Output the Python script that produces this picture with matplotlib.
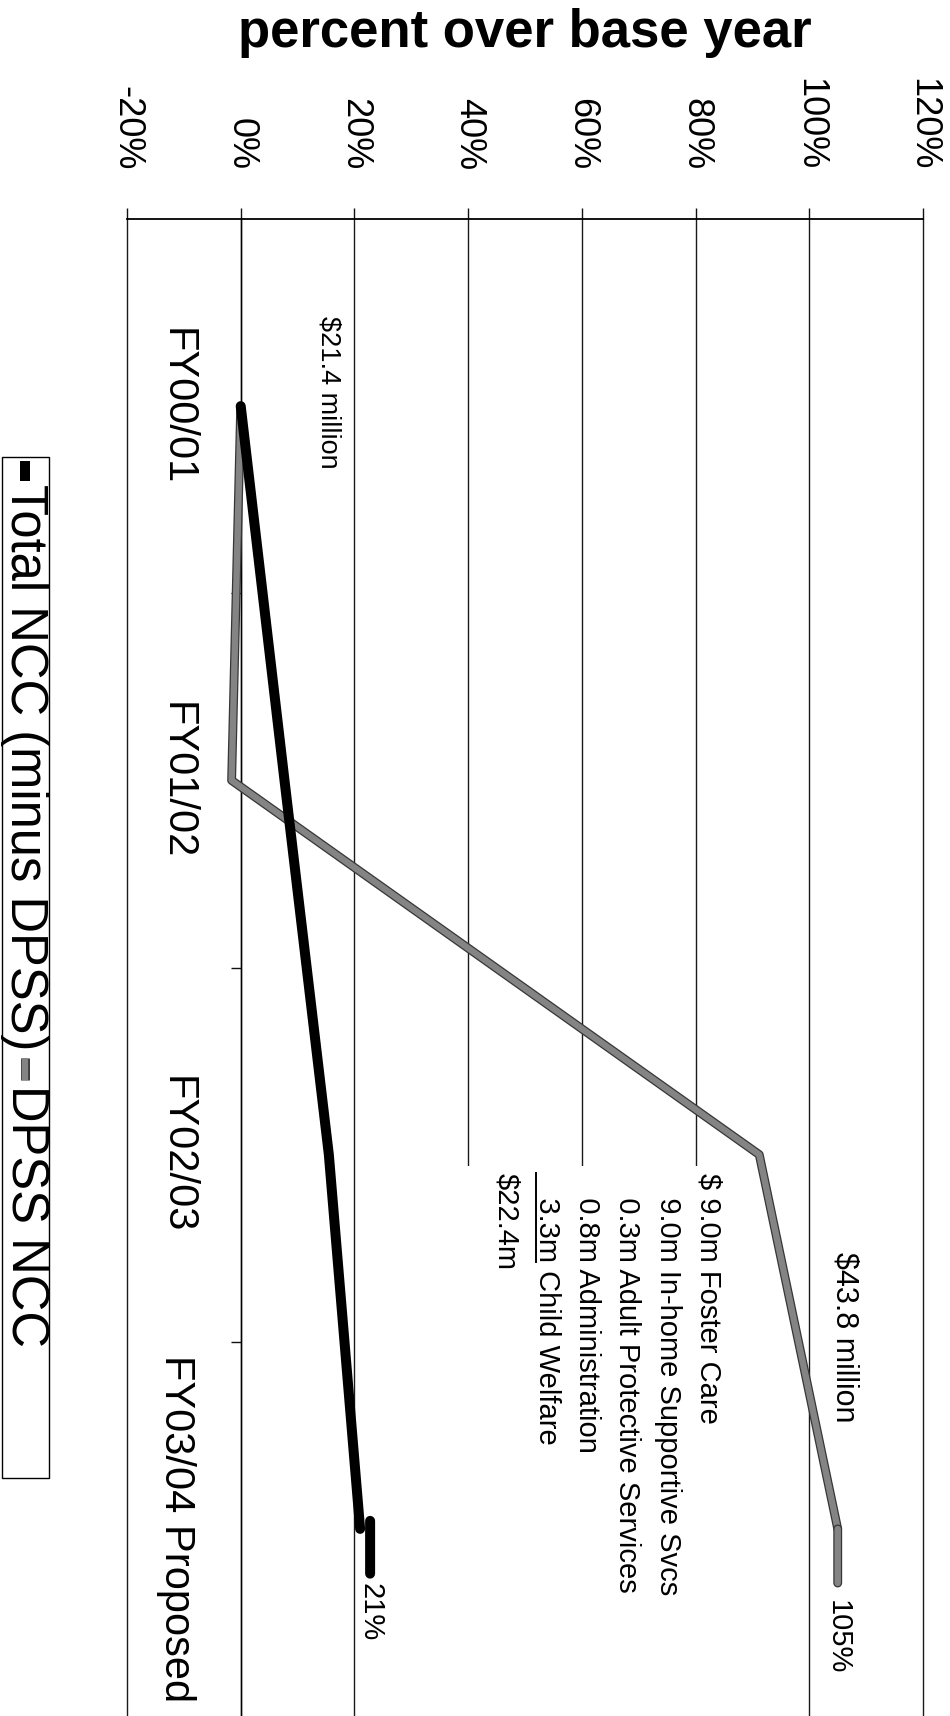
import matplotlib
matplotlib.use("Agg")
import matplotlib.pyplot as plt
from matplotlib import patheffects as pe
from matplotlib import transforms
from matplotlib.patches import Rectangle
from matplotlib.lines import Line2D

plt.rcParams["font.family"] = ["Liberation Sans", "DejaVu Sans"]

# ---- data -------------------------------------------------------------
categories = ["FY00/01", "FY01/02", "FY02/03", "FY03/04 Proposed"]
total_ncc = [0, 7.7, 15.5, 21]        # % over base year
dpss_ncc = [0, -1.6, 91.2, 105]       # % over base year
series_names = ["Total NCC (minus DPSS)", "DPSS NCC"]
pct_ticks = [-20, 0, 20, 40, 60, 80, 100, 120]
pct_labels = ["-20%", "0%", "20%", "40%", "60%", "80%", "100%", "120%"]
base_note = "$21.4 million"
final_note = "$43.8 million"
breakdown_lines = [
    "$ 9.0m Foster Care",
    "   9.0m In-home Supportive Svcs",
    "   0.3m Adult Protective Services",
    "   0.8m Administration",
    "   3.3m Child Welfare",
    "$22.4m",
]
underlined_part = "   3.3m"
underlined_row = 4

# ---- styles -----------------------------------------------------------
BLACK = "#000000"
GRAY = "#848484"
GRAY_LW = 4.6
gray_fx = [pe.Stroke(linewidth=6.4, foreground="#363636"), pe.Normal()]
BLACK_LW = 7.2
W, H = 950, 1716

fig = plt.figure(figsize=(W / 100, H / 100), dpi=100)
fig.patch.set_facecolor("white")
ax = fig.add_axes([127 / W, 0.0, (923 - 127) / W, 1 - 219 / H])
ax.set_facecolor("white")
ax.set_axisbelow(True)

pos = list(range(len(categories)))
ax.set_xlim(-20, 120)
ax.set_ylim(len(categories) - 0.5, -0.5)

# value axis (runs across the top)
ax.xaxis.tick_top()
ax.set_xticks(pct_ticks)
ax.set_xticklabels(pct_labels, rotation=-90, ha="center", va="bottom", fontsize=26)
ax.tick_params(axis="x", which="major", direction="out", length=8, width=1.0,
               pad=27, color="#111111")
ax.grid(axis="x", color="#1a1a1a", lw=1.0)
for gl in ax.get_xgridlines():
    gl.set_clip_on(False)

# category axis sits on the 0% line
ax.spines["left"].set_position(("data", 0))
ax.spines["left"].set_linewidth(1.0)
ax.spines["bottom"].set_visible(False)
ax.spines["right"].set_visible(False)
ax.spines["top"].set_linewidth(1.3)
ax.set_yticks(pos)
ax.set_yticklabels(categories, rotation=-90, va="center", ha="right", fontsize=30)
ax.set_yticks([p + 0.5 for p in pos[:-1]], minor=True)
ax.tick_params(axis="y", which="major", length=0, pad=32)
ax.tick_params(axis="y", which="minor", length=7, width=1.0, direction="out",
               color="#111111")

# ---- series -----------------------------------------------------------
ax.plot(dpss_ncc, pos, color=GRAY, lw=GRAY_LW, solid_capstyle="round",
        solid_joinstyle="round", path_effects=gray_fx, zorder=3, clip_on=False)
ax.plot(total_ncc, pos, color=BLACK, lw=BLACK_LW, solid_capstyle="round",
        solid_joinstyle="round", zorder=4, clip_on=False)


def end_label(value, color, lw, effects, dx_px, dy_px, gap_pt, shrink_pt):
    anchor = transforms.offset_copy(ax.transData, fig=fig, x=dx_px, y=dy_px,
                                    units="dots")
    ax.annotate(f"{value:g}%", xy=(value, pos[-1]), xycoords=anchor,
                xytext=(0, -gap_pt), textcoords="offset points",
                ha="center", va="top", rotation=-90, fontsize=21,
                annotation_clip=False,
                arrowprops=dict(arrowstyle="-", color=color, lw=lw,
                                shrinkA=shrink_pt, shrinkB=0,
                                relpos=(0.5, 1.0), capstyle="round",
                                path_effects=effects))


end_label(total_ncc[-1], BLACK, BLACK_LW, None, 10, 8, 45, 5)
end_label(dpss_ncc[-1], GRAY, GRAY_LW, gray_fx, 0, 0, 51, 10)

# ---- notes ------------------------------------------------------------
ax.text(15.5, -0.24, base_note, rotation=-90, ha="center", va="top",
        fontsize=19.5, zorder=5)
ax.text(106.2, 2.26, final_note, rotation=-90, ha="center", va="top",
        fontsize=22, zorder=5)

# white panel behind the cost breakdown
ax.add_patch(Rectangle((38.6, 2.03), 87.8 - 38.6, 1.6, facecolor="white",
                       edgecolor="none", zorder=1.5, clip_on=True))
row_x0, row_step, row_top = 82.2, 7.1, 2.05
row_texts = []
for i, line in enumerate(breakdown_lines):
    row_texts.append(ax.text(row_x0 - i * row_step, row_top, line, rotation=-90,
                             ha="center", va="top", fontsize=21, zorder=5))

# ---- legend (drawn by hand so it reads in the same direction) ----------
lx0, lx1 = 2 / W, 49 / W
ly_top, ly_bot = 1 - 457 / H, 1 - 1478 / H
xc = 24.5 / W


def fy(px):
    return 1 - px / H


fig.add_artist(Line2D([xc, xc], [fy(461), fy(481)], transform=fig.transFigure,
                      color=BLACK, lw=BLACK_LW, solid_capstyle="butt"))
leg_t1 = fig.text(xc, fy(484), series_names[0], rotation=-90, ha="center",
                  va="top", fontsize=36.5)

fig.canvas.draw()
renderer = fig.canvas.get_renderer()
end1 = H - leg_t1.get_window_extent(renderer).y0     # pixels from top
h2a, h2b = end1 + 8, end1 + 30
fig.add_artist(Line2D([xc, xc], [fy(h2a), fy(h2b)], transform=fig.transFigure,
                      color=GRAY, lw=GRAY_LW, solid_capstyle="butt",
                      path_effects=gray_fx))
fig.text(xc, fy(h2b + 5), series_names[1], rotation=-90, ha="center",
         va="top", fontsize=36.5)
fig.add_artist(Rectangle((lx0, ly_bot), lx1 - lx0, ly_top - ly_bot,
                         transform=fig.transFigure, fill=False,
                         edgecolor="black", lw=1.0, zorder=5))

# underline under the last addend of the breakdown
ref = row_texts[underlined_row]
row_bb = ref.get_window_extent(renderer)
tmp = ax.text(*ref.get_position(), underlined_part, rotation=-90, ha="center",
              va="top", fontsize=21, alpha=0)
fig.canvas.draw()
sub_bb = tmp.get_window_extent(renderer)
tmp.remove()
ux = row_bb.x0 + 3.5
inv = fig.transFigure.inverted()
(p0x, p0y) = inv.transform((ux, row_bb.y1))
(p1x, p1y) = inv.transform((ux, row_bb.y1 - sub_bb.height))
fig.add_artist(Line2D([p0x, p1x], [p0y, p1y], transform=fig.transFigure,
                      color="black", lw=1.4))

# ---- axis title -------------------------------------------------------
fig.text(525 / W, 1 - 33 / H, "percent over base year", ha="center",
         va="center", fontsize=38, fontweight="bold")

fig.savefig("out.png", dpi=100, facecolor="white")
